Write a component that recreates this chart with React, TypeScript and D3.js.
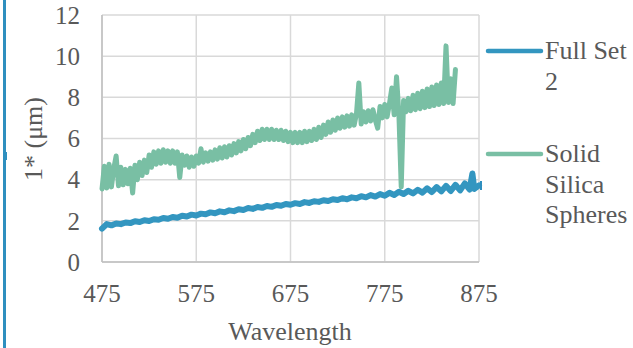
import React from 'react';
import * as d3 from 'd3';

// ==== data

const wavelengthTicks = [475, 575, 675, 775, 875];
const lengthTicks = [0, 2, 4, 6, 8, 10, 12];

// Full Set 2, sampled every 5 nm (one spike at 868)
const fullSetWavelength = [
    475, 480, 485, 490, 495, 500, 505, 510, 515, 520, 525, 530, 535, 540, 545, 550,
    555, 560, 565, 570, 575, 580, 585, 590, 595, 600, 605, 610, 615, 620, 625, 630,
    635, 640, 645, 650, 655, 660, 665, 670, 675, 680, 685, 690, 695, 700, 705, 710,
    715, 720, 725, 730, 735, 740, 745, 750, 755, 760, 765, 770, 775, 780, 785, 790,
    795, 800, 805, 810, 815, 820, 825, 830, 835, 840, 845, 850, 855, 860, 865, 868,
    870, 875
];
const fullSetValues = [
    1.62, 1.84, 1.78, 1.87, 1.84, 1.92, 1.89, 1.98, 1.94, 2.03, 1.99, 2.08, 2.05, 2.14, 2.1, 2.19,
    2.15, 2.25, 2.21, 2.3, 2.26, 2.35, 2.32, 2.41, 2.37, 2.46, 2.42, 2.51, 2.47, 2.56, 2.53, 2.62,
    2.58, 2.67, 2.63, 2.72, 2.68, 2.77, 2.73, 2.82, 2.78, 2.86, 2.82, 2.91, 2.87, 2.95, 2.92, 3.0,
    2.96, 3.05, 3.01, 3.1, 3.05, 3.14, 3.1, 3.2, 3.14, 3.25, 3.18, 3.3, 3.22, 3.36, 3.26, 3.41,
    3.3, 3.46, 3.33, 3.51, 3.37, 3.58, 3.4, 3.64, 3.43, 3.7, 3.45, 3.75, 3.48, 3.82, 3.52, 4.3,
    3.55, 3.72
];

// Solid Silica Spheres, sampled every 2.5 nm from 475 to 850
const silicaStart = 475;
const silicaStep = 2.5;
const silicaValues = [
    3.55, 4.65, 3.6, 4.75, 3.65, 4.55, 5.15, 3.7, 4.6, 3.75,
    4.5, 3.8, 4.55, 3.35, 4.7, 4.0, 4.85, 4.2, 4.95, 4.35,
    5.2, 4.6, 5.35, 4.75, 5.4, 4.8, 5.45, 4.85, 5.4, 4.8,
    5.4, 4.8, 5.35, 4.1, 5.2, 4.7, 5.15, 4.6, 5.1, 4.65,
    5.15, 4.8, 5.5, 4.85, 5.3, 4.9, 5.35, 4.95, 5.45, 5.0,
    5.55, 5.05, 5.6, 5.1, 5.65, 5.2, 5.75, 5.3, 5.85, 5.4,
    5.95, 5.5, 6.05, 5.65, 6.2, 5.8, 6.35, 5.9, 6.45, 5.95,
    6.45, 5.95, 6.45, 5.95, 6.4, 5.95, 6.4, 5.9, 6.35, 5.85,
    6.3, 5.8, 6.3, 5.8, 6.3, 5.8, 6.35, 5.85, 6.35, 5.9,
    6.45, 5.95, 6.55, 6.05, 6.65, 6.2, 6.8, 6.3, 6.9, 6.4,
    7.0, 6.5, 7.05, 6.55, 7.1, 6.6, 7.15, 6.65, 7.2, 8.7,
    6.7, 7.3, 6.8, 7.35, 6.85, 7.4, 6.9, 6.5, 7.55, 7.0,
    7.65, 7.05, 7.7, 8.45, 7.15, 9.0, 7.2, 3.65, 7.85, 7.3,
    7.95, 7.35, 8.1, 7.4, 8.2, 7.45, 8.3, 7.5, 8.4, 7.55,
    8.5, 7.6, 8.6, 7.65, 8.7, 7.7, 10.5, 7.75, 8.9, 7.7,
    9.35
];

const seriesNames = ['Full Set 2', 'Solid Silica Spheres'];
const legendLines = [['Full Set', '2'], ['Solid', 'Silica', 'Spheres']];
const seriesColors = ['#3396c0', '#79bfa4'];

// ====

const width = 633;
const height = 348;
const textColor = '#595959';
const gridColor = '#d9d9d9';
const font = "'Liberation Serif', 'Times New Roman', Times, serif";

const App = () => {
    const x = d3.scaleLinear().domain([475, 875]).range([102, 479]);
    const y = d3.scaleLinear().domain([0, 12]).range([262, 15]);

    const line = d3.line<[number, number]>()
        .x((d) => x(d[0]))
        .y((d) => y(d[1]));

    const blue = fullSetWavelength.map((w, i) => [w, fullSetValues[i]] as [number, number]);
    const green = silicaValues.map((v, i) => [silicaStart + i * silicaStep, v] as [number, number]);

    const textStyle = { fontFamily: font };

    return (
        <svg width={width} height={height}
            style={{ position: 'absolute', left: 0, top: 0, background: '#fff', fontFamily: font }}>
            {/* gridlines */}
            {lengthTicks.map((t) => (
                <line key={'h' + t} x1={x(475)} x2={x(875)} y1={y(t)} y2={y(t)}
                    stroke={gridColor} strokeWidth={1.5} />
            ))}
            {wavelengthTicks.map((t) => (
                <line key={'v' + t} x1={x(t)} x2={x(t)} y1={y(0)} y2={y(12)}
                    stroke={gridColor} strokeWidth={1.5} />
            ))}
            {/* axis lines */}
            <line x1={x(475)} x2={x(475)} y1={y(0)} y2={y(12)} stroke="#bfbfbf" strokeWidth={1.5} />
            <line x1={x(475)} x2={x(875)} y1={y(0)} y2={y(0)} stroke="#bfbfbf" strokeWidth={1.5} />

            {/* series */}
            <path d={line(green) || ''} fill="none" stroke={seriesColors[1]} strokeWidth={5}
                strokeLinejoin="round" strokeLinecap="round" />
            <path d={line(blue) || ''} fill="none" stroke={seriesColors[0]} strokeWidth={6}
                strokeLinejoin="round" strokeLinecap="round" />

            {/* tick labels */}
            {lengthTicks.map((t) => (
                <text key={'yl' + t} x={80} y={y(t)} dy="0.35em" textAnchor="end"
                    fontSize={25} fill={textColor} style={textStyle}>{t}</text>
            ))}
            {wavelengthTicks.map((t) => (
                <text key={'xl' + t} x={x(t)} y={302} textAnchor="middle"
                    fontSize={25} fill={textColor} style={textStyle}>{t}</text>
            ))}

            {/* axis titles */}
            <text x={290} y={340} textAnchor="middle" fontSize={26} fill={textColor}
                style={textStyle}>Wavelength</text>
            <text transform="translate(42,139) rotate(-90)" textAnchor="middle"
                fontSize={26} fill={textColor} style={textStyle}>1* (μm)</text>

            {/* legend */}
            {seriesNames.map((name, i) => {
                const ly = i === 0 ? 51 : 154;
                return (
                    <g key={name}>
                        <line x1={488} x2={541} y1={ly} y2={ly} stroke={seriesColors[i]}
                            strokeWidth={4.5} strokeLinecap="round" />
                        {legendLines[i].map((txt, j) => (
                            <text key={txt} x={545} y={ly + 8 + j * 30.5} fontSize={26}
                                fill={textColor} style={textStyle}>{txt}</text>
                        ))}
                    </g>
                );
            })}

            {/* frame marks */}
            <rect x={3} y={0} width={3} height={height} fill="#2e8fbf" />
            <rect x={3} y={152} width={4} height={8} fill="#2e8fbf" />
            <rect x={480} y={181} width={2} height={9} fill="#2e8fbf" />
        </svg>
    );
};

export default App;
